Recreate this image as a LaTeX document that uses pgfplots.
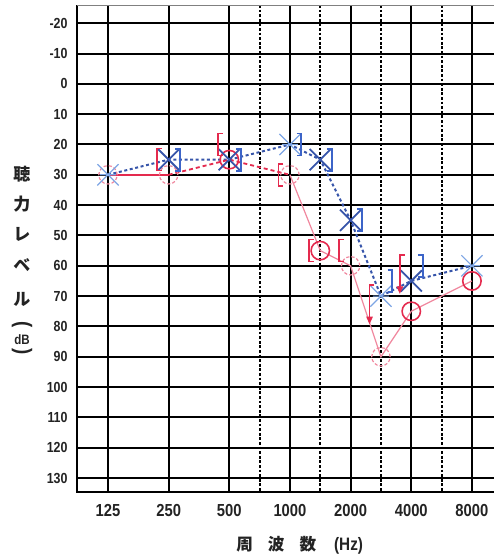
\documentclass[border=0pt]{standalone}
\usepackage{fontspec}
\setmainfont{Liberation Sans}[FakeStretch=0.85]
\newfontfamily\cjk{Noto Sans CJK JP}
\usepackage{pgfplots}
\pgfplotsset{compat=1.18}
\definecolor{rred}{RGB}{228,42,78}
\definecolor{rpink}{RGB}{240,135,158}
\definecolor{bblue}{RGB}{55,85,170}
\definecolor{lblue}{RGB}{125,165,228}
\definecolor{brblue}{RGB}{60,100,200}
\definecolor{tk}{RGB}{35,35,35}
\pgfdeclareplotmark{bx}{%
 \pgfpathmoveto{\pgfqpoint{-5.3pt}{-5.3pt}}\pgfpathlineto{\pgfqpoint{5.3pt}{5.3pt}}%
 \pgfpathmoveto{\pgfqpoint{-5.3pt}{5.3pt}}\pgfpathlineto{\pgfqpoint{5.3pt}{-5.3pt}}%
 \pgfusepathqstroke}
\pgfdeclareplotmark{ast}{%
 \pgfpathmoveto{\pgfqpoint{-5.3pt}{-5.3pt}}\pgfpathlineto{\pgfqpoint{5.3pt}{5.3pt}}%
 \pgfpathmoveto{\pgfqpoint{-5.3pt}{5.3pt}}\pgfpathlineto{\pgfqpoint{5.3pt}{-5.3pt}}%
 \pgfpathmoveto{\pgfqpoint{-4pt}{0pt}}\pgfpathlineto{\pgfqpoint{4pt}{0pt}}%
 \pgfusepathqstroke}
\pgfdeclareplotmark{lbr}{%
 \pgfpathmoveto{\pgfqpoint{-3.3pt}{5.5pt}}\pgfpathlineto{\pgfqpoint{-5.7pt}{5.5pt}}%
 \pgfpathlineto{\pgfqpoint{-5.7pt}{-5.5pt}}\pgfpathlineto{\pgfqpoint{-3.3pt}{-5.5pt}}%
 \pgfusepathqstroke}
\pgfdeclareplotmark{rbr}{%
 \pgfpathmoveto{\pgfqpoint{3.3pt}{5.5pt}}\pgfpathlineto{\pgfqpoint{5.7pt}{5.5pt}}%
 \pgfpathlineto{\pgfqpoint{5.7pt}{-5.5pt}}\pgfpathlineto{\pgfqpoint{3.3pt}{-5.5pt}}%
 \pgfusepathqstroke}
\pgfdeclareplotmark{lbrarr}{%
 \pgfpathmoveto{\pgfqpoint{-3.3pt}{5.5pt}}\pgfpathlineto{\pgfqpoint{-5.7pt}{5.5pt}}%
 \pgfpathlineto{\pgfqpoint{-5.7pt}{-11pt}}\pgfusepathqstroke
 \pgfpathmoveto{\pgfqpoint{-5.7pt}{-14pt}}\pgfpathlineto{\pgfqpoint{-7.4pt}{-10.3pt}}%
 \pgfpathlineto{\pgfqpoint{-4pt}{-10.3pt}}\pgfpathclose\pgfusepathqfill}
\begin{document}
\begin{tikzpicture}
\begin{axis}[name=ax, scale only axis, width=209.6pt, height=243.5pt,
 xmin=-0.511, xmax=6.4, ymin=-26, ymax=134.6, y dir=reverse,
 xtick={0,1,2,3,4,5,6}, xticklabels={125,250,500,1000,2000,4000,8000},
 ytick={-20,-10,0,10,20,30,40,50,60,70,80,90,100,110,120,130},
 yticklabels={-20,-10,0,10,20,30,40,50,60,70,80,90,100,110,120,130},
 major tick length=0pt,
 grid=major, major grid style={black, line width=1pt},
 extra x ticks={2.5,3.5,4.5,5.5}, extra x tick labels={},
 extra x tick style={major grid style={black, line width=1pt, dash pattern=on 1.4pt off 0.9pt}},
 axis line style={draw=none},
 xticklabel style={font=\fontsize{8.7}{9}\selectfont\bfseries, text=tk, yshift=-2.7pt},
 yticklabel style={font=\fontsize{7.3}{8}\selectfont\bfseries, text=tk, xshift=-1.2pt},
 clip=false,
]
% frame
\draw[black, line width=1.1pt] (axis cs:-0.511,-26) -- (axis cs:-0.511,134.6) -- (axis cs:6.4,134.6);
\draw[gray, line width=0.4pt] (axis cs:-0.511,-26) -- (axis cs:6.4,-26);

% lines
\addplot[bblue, line width=1pt, dash pattern=on 1.5pt off 1.3pt] coordinates {(0,30)(1,25)(2,25)(3,20)(3.5,25)(4,45)(4.5,70)(5,65)(6,60)};
\addplot[rred, line width=1pt] coordinates {(0,30)(1,30)};
\addplot[rred, line width=0.9pt, dash pattern=on 2pt off 1.5pt] coordinates {(1,30)(2,25)(3,30)};
\addplot[rpink, line width=0.6pt] coordinates {(3,30)(3.5,55)(4,60)(4.5,90)(5,75)(6,65)};

% right ear air (circles)
\addplot[only marks, mark=o, mark size=4.6pt, rpink, mark options={line width=0.6pt, dash pattern=on 1.6pt off 1pt}] coordinates {(0,30)(1,30)(3,30)(4,60)(4.5,90)};
\addplot[only marks, mark=o, mark size=4.6pt, rred, mark options={line width=0.8pt}] coordinates {(2,25)(3.5,55)(5,75)(6,65)};

% left ear air (X)
\addplot[only marks, mark=ast, lblue, mark options={line width=0.6pt}] coordinates {(0,30)(3,20)(4.5,70)(6,60)};
\addplot[only marks, mark=bx, bblue, mark options={line width=0.9pt}] coordinates {(1,25)(2,25)(3.5,25)(4,45)(5,65)};

% bone conduction right [
\addplot[only marks, mark=lbr, rred, mark options={line width=0.8pt}] coordinates {(1,25)(2,20)(3,30)(3.5,55)(4,55)};
\addplot[only marks, mark=lbrarr, rred, mark options={line width=0.8pt}] coordinates {(4.5,70)(5,60)};
% bone conduction left ]
\addplot[only marks, mark=rbr, brblue, mark options={line width=0.9pt}] coordinates {(1,25)(2,25)(3,20)(3.5,25)(4,45)(4.5,65)(5,60)};

% y label (vertical Japanese)
\node[font=\cjk\fontsize{8.5}{9}\selectfont\bfseries, text=tk] at ([xshift=-27.5pt]axis cs:-0.511,29.7) {聴};
\node[font=\cjk\fontsize{8.5}{9}\selectfont\bfseries, text=tk] at ([xshift=-27.5pt]axis cs:-0.511,39.6) {力};
\node[font=\cjk\fontsize{8.5}{9}\selectfont\bfseries, text=tk] at ([xshift=-27.5pt]axis cs:-0.511,49.5) {レ};
\node[font=\cjk\fontsize{8.5}{9}\selectfont\bfseries, text=tk] at ([xshift=-27.5pt]axis cs:-0.511,59.7) {ベ};
\node[font=\cjk\fontsize{8.5}{9}\selectfont\bfseries, text=tk] at ([xshift=-27.5pt]axis cs:-0.511,71) {ル};
\node[font=\fontsize{11}{12}\selectfont\bfseries, text=tk, rotate=-90] at ([xshift=-27.5pt]axis cs:-0.511,79.5) {(};
\node[font=\fontsize{6.8}{7}\selectfont\bfseries, text=tk] at ([xshift=-27.5pt]axis cs:-0.511,84.2) {dB};
\node[font=\fontsize{11}{12}\selectfont\bfseries, text=tk, rotate=-90] at ([xshift=-27.5pt]axis cs:-0.511,88.2) {)};

% x label
\node[text=tk] at ([yshift=-26.5pt]axis cs:3.16,134.6) {{\cjk\fontsize{8.3}{9}\selectfont\bfseries 周\hspace{7.5pt}波\hspace{7.5pt}数}\hspace{9pt}{\fontsize{9}{10}\selectfont\bfseries (Hz)}};
\end{axis}
\pgfresetboundingbox
\path[use as bounding box] ([shift={(-38.5pt,-33.5pt)}]ax.south west) rectangle ++(247pt,279.5pt);
\end{tikzpicture}
\end{document}
